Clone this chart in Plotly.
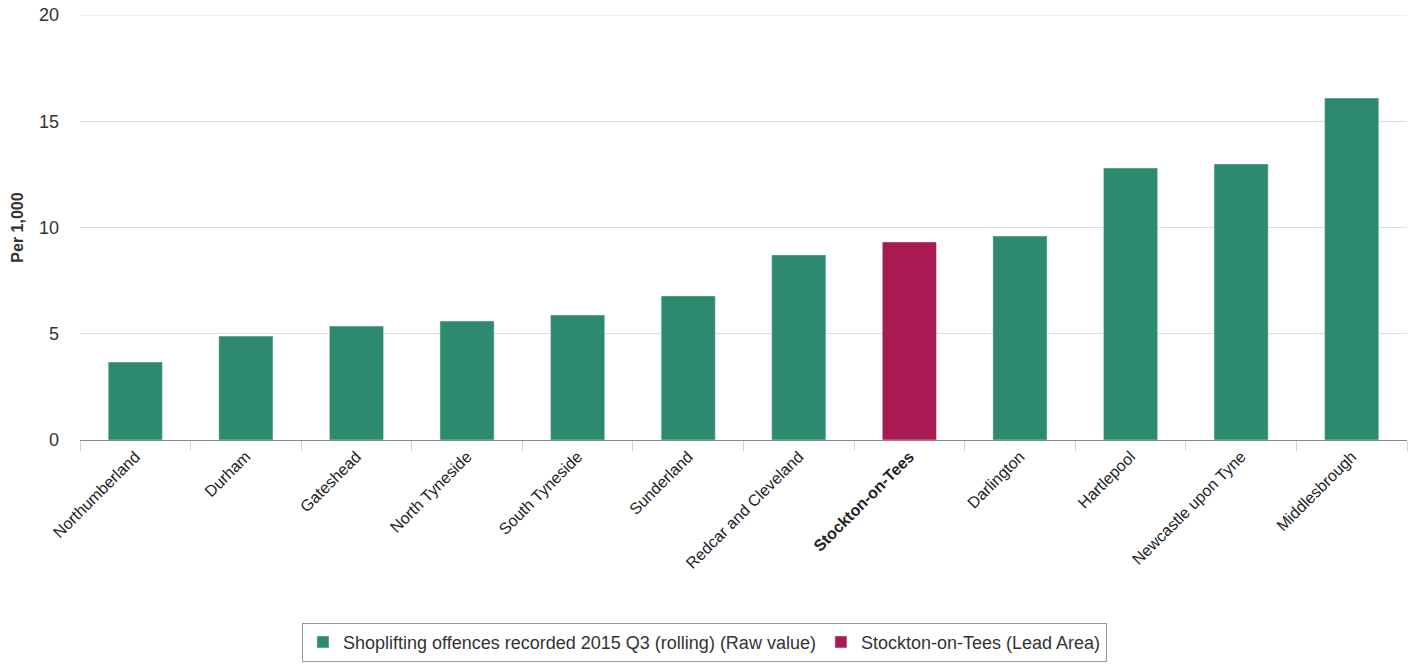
import plotly.graph_objects as go

categories = ["Northumberland", "Durham", "Gateshead", "North Tyneside", "South Tyneside",
              "Sunderland", "Redcar and Cleveland", "Stockton-on-Tees", "Darlington",
              "Hartlepool", "Newcastle upon Tyne", "Middlesbrough"]
values = [3.67, 4.89, 5.36, 5.6, 5.88, 6.78, 8.71, 9.32, 9.6, 12.8, 12.99, 16.09]
lead_area = "Stockton-on-Tees"
series_name = "Shoplifting offences recorded 2015 Q3 (rolling) (Raw value)"
lead_name = "Stockton-on-Tees (Lead Area)"
y_max = 20

green = "#2e8a6e"
red = "#a91a53"
grid = "#dddddd"

main_y = [None if c == lead_area else v for c, v in zip(categories, values)]
lead_y = [v if c == lead_area else None for c, v in zip(categories, values)]
ticktext = ["<b>%s</b>" % c if c == lead_area else c for c in categories]

fig = go.Figure()
fig.add_trace(go.Bar(x=categories, y=main_y, name=series_name, marker_color=green))
fig.add_trace(go.Bar(x=categories, y=lead_y, name=lead_name, marker_color=red))

# top gridline (plotly omits gridlines on the plot edge)
fig.add_shape(type="line", xref="paper", x0=0, x1=1, yref="y", y0=y_max, y1=y_max,
              line=dict(color=grid, width=1), layer="below")

fig.update_layout(
    width=1413, height=670,
    margin=dict(l=80, r=6, t=15, b=230),
    barmode="overlay", bargap=0.51,
    plot_bgcolor="white", paper_bgcolor="white",
    font=dict(family="Liberation Sans, Arial, sans-serif", color="#333333"),
    showlegend=True,
    legend=dict(orientation="h", x=0.4706, xanchor="center", y=-0.43, yanchor="top",
                bordercolor="#999999", borderwidth=1, font=dict(size=18, color="#333333"),
                itemwidth=30, tracegroupgap=0),
    xaxis=dict(tickmode="array", tickvals=categories, ticktext=ticktext, tickangle=-45,
               tickfont=dict(size=16, color="#222222"), tickson="boundaries",
               ticks="outside", ticklen=10, tickcolor="#ccd6eb", automargin=False,
               showline=True, linecolor="#888888", linewidth=1, showgrid=False),
    yaxis=dict(range=[0, y_max], tickvals=[0, 5, 10, 15, 20], gridcolor=grid,
               tickfont=dict(size=18, color="#333333"), zeroline=False,
               ticklabelstandoff=20, automargin=False, ticklabeloverflow="allow",
               title=dict(text="<b>Per 1,000</b>", font=dict(size=16, color="#333333"), standoff=11)),
)
fig.write_html("out.html", config={"displayModeBar": False},
               post_script="document.body.style.margin='0';document.body.style.overflow='hidden';")
